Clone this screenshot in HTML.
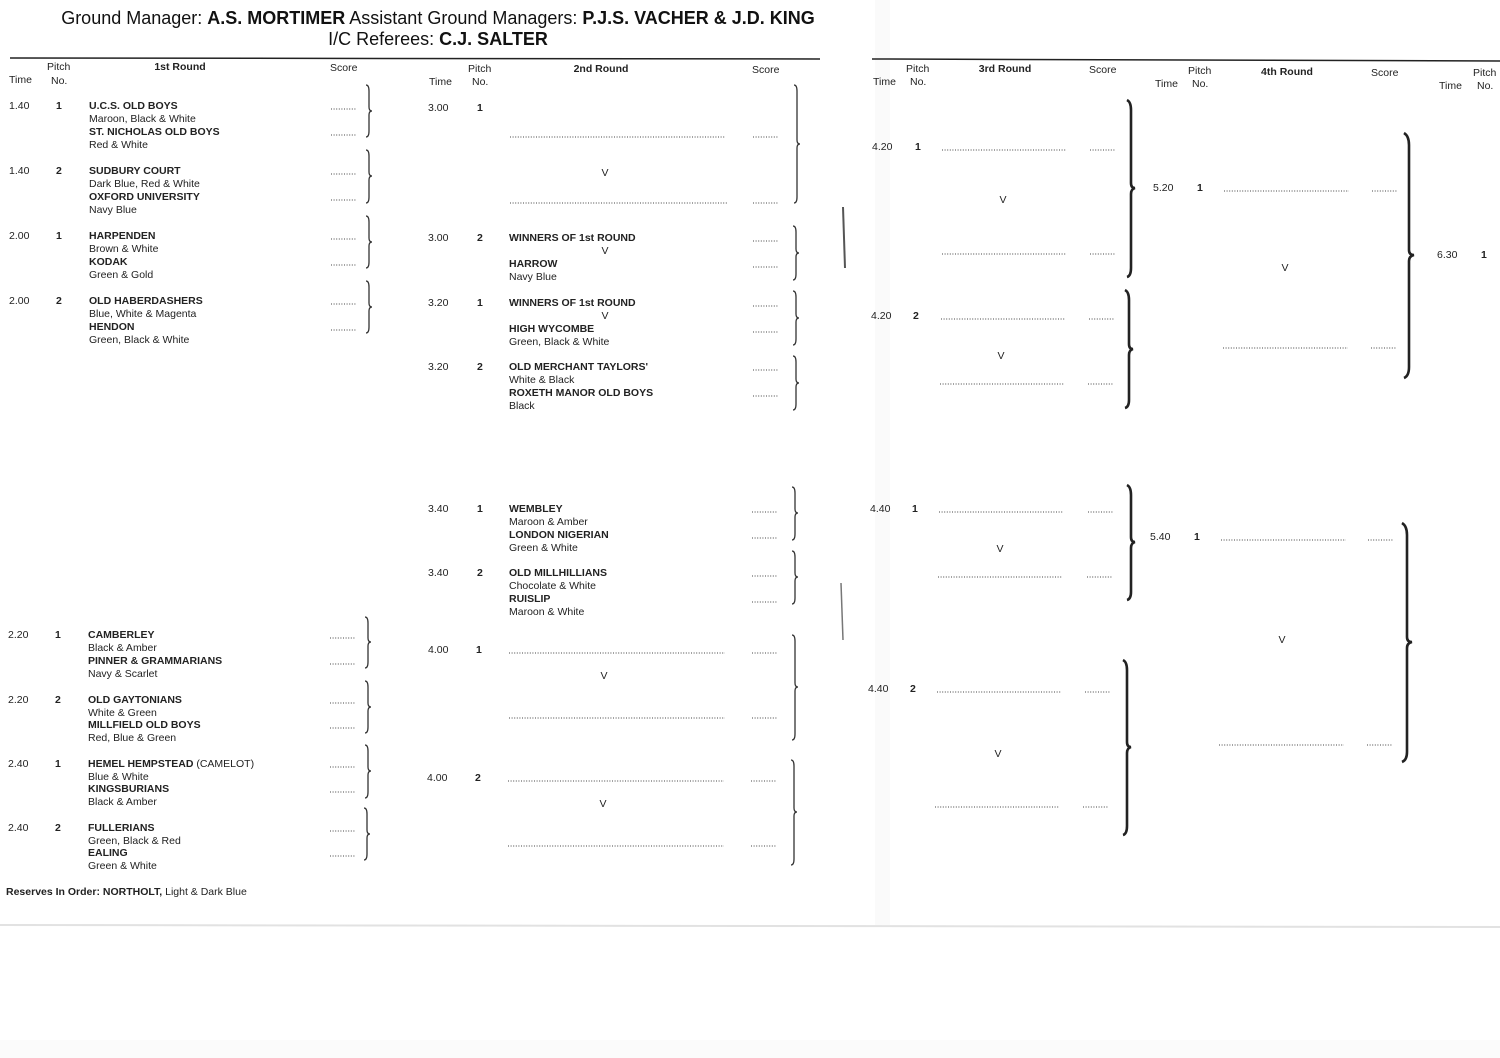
<!DOCTYPE html>
<html><head><meta charset="utf-8"><style>
html,body{margin:0;padding:0;background:#fff;}
svg{display:block;}
text{font-family:"Liberation Sans",sans-serif;fill:#222;font-size:10.5px;}
.b{font-weight:bold;}
.h{font-size:18px;fill:#111;}
.d{stroke:#444;stroke-width:1;stroke-dasharray:1 1.6;}
.br{fill:none;stroke:#333;stroke-width:1.3;}
.bt{fill:none;stroke:#222;stroke-width:2.6;}
</style></head><body>
<svg width="1500" height="1058" viewBox="0 0 1500 1058" xmlns="http://www.w3.org/2000/svg">
<rect width="1500" height="1058" fill="#fff"/>
<rect x="875" y="0" width="15" height="925" fill="#fafafa"/>
<line x1="0" y1="925" x2="1500" y2="927" stroke="#e2e2e2" stroke-width="2"/>
<rect x="0" y="1040" width="1500" height="18" fill="#fbfbfb"/>

<!-- header -->
<text x="438" y="24" text-anchor="middle" class="h">Ground Manager: <tspan class="b">A.S. MORTIMER</tspan>  Assistant Ground Managers: <tspan class="b">P.J.S. VACHER &amp; J.D. KING</tspan></text>
<text x="438" y="45" text-anchor="middle" class="h">I/C Referees: <tspan class="b">C.J. SALTER</tspan></text>
<line x1="10" y1="58" x2="820" y2="59" stroke="#222" stroke-width="1.5"/>
<line x1="872" y1="59" x2="1500" y2="61" stroke="#222" stroke-width="1.5"/>

<!-- column headers -->
<text x="47" y="70">Pitch</text><text x="9" y="83">Time</text><text x="51" y="84">No.</text>
<text x="180" y="70" text-anchor="middle" class="b">1st Round</text><text x="330" y="71">Score</text>
<text x="468" y="72">Pitch</text><text x="429" y="85">Time</text><text x="472" y="85">No.</text>
<text x="601" y="72" text-anchor="middle" class="b">2nd Round</text><text x="752" y="73">Score</text>
<text x="906" y="72">Pitch</text><text x="873" y="85">Time</text><text x="910" y="85">No.</text>
<text x="1005" y="72" text-anchor="middle" class="b">3rd Round</text><text x="1089" y="73">Score</text>
<text x="1188" y="74">Pitch</text><text x="1155" y="87">Time</text><text x="1192" y="87">No.</text>
<text x="1287" y="75" text-anchor="middle" class="b">4th Round</text><text x="1371" y="76">Score</text>
<text x="1473" y="76">Pitch</text><text x="1439" y="89">Time</text><text x="1477" y="89">No.</text>

<!-- 1st round -->
<g>
<text x="9" y="109">1.40</text><text x="56" y="109" class="b">1</text>
<text x="89" y="109" class="b">U.C.S. OLD BOYS</text><text x="89" y="122">Maroon, Black &amp; White</text>
<text x="89" y="135" class="b">ST. NICHOLAS OLD BOYS</text><text x="89" y="148">Red &amp; White</text>
<line class="d" x1="331" y1="109" x2="356" y2="109"/><line class="d" x1="331" y1="135" x2="356" y2="135"/>

<text x="9" y="174">1.40</text><text x="56" y="174" class="b">2</text>
<text x="89" y="174" class="b">SUDBURY COURT</text><text x="89" y="187">Dark Blue, Red &amp; White</text>
<text x="89" y="200" class="b">OXFORD UNIVERSITY</text><text x="89" y="213">Navy Blue</text>
<line class="d" x1="331" y1="174" x2="356" y2="174"/><line class="d" x1="331" y1="200" x2="356" y2="200"/>

<text x="9" y="239">2.00</text><text x="56" y="239" class="b">1</text>
<text x="89" y="239" class="b">HARPENDEN</text><text x="89" y="252">Brown &amp; White</text>
<text x="89" y="265" class="b">KODAK</text><text x="89" y="278">Green &amp; Gold</text>
<line class="d" x1="331" y1="239" x2="356" y2="239"/><line class="d" x1="331" y1="265" x2="356" y2="265"/>

<text x="9" y="304">2.00</text><text x="56" y="304" class="b">2</text>
<text x="89" y="304" class="b">OLD HABERDASHERS</text><text x="89" y="317">Blue, White &amp; Magenta</text>
<text x="89" y="330" class="b">HENDON</text><text x="89" y="343">Green, Black &amp; White</text>
<line class="d" x1="331" y1="304" x2="356" y2="304"/><line class="d" x1="331" y1="330" x2="356" y2="330"/>

<text x="8" y="638">2.20</text><text x="55" y="638" class="b">1</text>
<text x="88" y="638" class="b">CAMBERLEY</text><text x="88" y="651">Black &amp; Amber</text>
<text x="88" y="664" class="b">PINNER &amp; GRAMMARIANS</text><text x="88" y="677">Navy &amp; Scarlet</text>
<line class="d" x1="330" y1="638" x2="355" y2="638"/><line class="d" x1="330" y1="664" x2="355" y2="664"/>

<text x="8" y="703">2.20</text><text x="55" y="703" class="b">2</text>
<text x="88" y="703" class="b">OLD GAYTONIANS</text><text x="88" y="716">White &amp; Green</text>
<text x="88" y="728" class="b">MILLFIELD OLD BOYS</text><text x="88" y="741">Red, Blue &amp; Green</text>
<line class="d" x1="330" y1="703" x2="355" y2="703"/><line class="d" x1="330" y1="728" x2="355" y2="728"/>

<text x="8" y="767">2.40</text><text x="55" y="767" class="b">1</text>
<text x="88" y="767"><tspan class="b">HEMEL HEMPSTEAD</tspan> (CAMELOT)</text><text x="88" y="780">Blue &amp; White</text>
<text x="88" y="792" class="b">KINGSBURIANS</text><text x="88" y="805">Black &amp; Amber</text>
<line class="d" x1="330" y1="767" x2="355" y2="767"/><line class="d" x1="330" y1="792" x2="355" y2="792"/>

<text x="8" y="831">2.40</text><text x="55" y="831" class="b">2</text>
<text x="88" y="831" class="b">FULLERIANS</text><text x="88" y="844">Green, Black &amp; Red</text>
<text x="88" y="856" class="b">EALING</text><text x="88" y="869">Green &amp; White</text>
<line class="d" x1="330" y1="831" x2="355" y2="831"/><line class="d" x1="330" y1="856" x2="355" y2="856"/>

<text x="6" y="895" font-size="10"><tspan class="b">Reserves In Order:  NORTHOLT,</tspan> Light &amp; Dark Blue</text>
</g>

<!-- 2nd round -->
<g>
<text x="428" y="111">3.00</text><text x="477" y="111" class="b">1</text>
<line class="d" x1="510" y1="137" x2="725" y2="137"/><line class="d" x1="753" y1="137" x2="779" y2="137"/>
<text x="605" y="176" text-anchor="middle">V</text>
<line class="d" x1="510" y1="203" x2="727" y2="203"/><line class="d" x1="753" y1="203" x2="779" y2="203"/>

<text x="428" y="241">3.00</text><text x="477" y="241" class="b">2</text>
<text x="509" y="241" class="b">WINNERS OF 1st ROUND</text><text x="605" y="254" text-anchor="middle">V</text>
<text x="509" y="267" class="b">HARROW</text><text x="509" y="280">Navy Blue</text>
<line class="d" x1="753" y1="241" x2="779" y2="241"/><line class="d" x1="753" y1="267" x2="779" y2="267"/>

<text x="428" y="306">3.20</text><text x="477" y="306" class="b">1</text>
<text x="509" y="306" class="b">WINNERS OF 1st ROUND</text><text x="605" y="319" text-anchor="middle">V</text>
<text x="509" y="332" class="b">HIGH WYCOMBE</text><text x="509" y="345">Green, Black &amp; White</text>
<line class="d" x1="753" y1="306" x2="779" y2="306"/><line class="d" x1="753" y1="332" x2="779" y2="332"/>

<text x="428" y="370">3.20</text><text x="477" y="370" class="b">2</text>
<text x="509" y="370" class="b">OLD MERCHANT TAYLORS'</text><text x="509" y="383">White &amp; Black</text>
<text x="509" y="396" class="b">ROXETH MANOR OLD BOYS</text><text x="509" y="409">Black</text>
<line class="d" x1="753" y1="370" x2="779" y2="370"/><line class="d" x1="753" y1="396" x2="779" y2="396"/>

<text x="428" y="512">3.40</text><text x="477" y="512" class="b">1</text>
<text x="509" y="512" class="b">WEMBLEY</text><text x="509" y="525">Maroon &amp; Amber</text>
<text x="509" y="538" class="b">LONDON NIGERIAN</text><text x="509" y="551">Green &amp; White</text>
<line class="d" x1="752" y1="512" x2="778" y2="512"/><line class="d" x1="752" y1="538" x2="778" y2="538"/>

<text x="428" y="576">3.40</text><text x="477" y="576" class="b">2</text>
<text x="509" y="576" class="b">OLD MILLHILLIANS</text><text x="509" y="589">Chocolate &amp; White</text>
<text x="509" y="602" class="b">RUISLIP</text><text x="509" y="615">Maroon &amp; White</text>
<line class="d" x1="752" y1="576" x2="778" y2="576"/><line class="d" x1="752" y1="602" x2="778" y2="602"/>

<text x="428" y="653">4.00</text><text x="476" y="653" class="b">1</text>
<line class="d" x1="509" y1="653" x2="725" y2="653"/><line class="d" x1="752" y1="653" x2="778" y2="653"/>
<text x="604" y="679" text-anchor="middle">V</text>
<line class="d" x1="509" y1="718" x2="725" y2="718"/><line class="d" x1="752" y1="718" x2="778" y2="718"/>

<text x="427" y="781">4.00</text><text x="475" y="781" class="b">2</text>
<line class="d" x1="508" y1="781" x2="724" y2="781"/><line class="d" x1="751" y1="781" x2="777" y2="781"/>
<text x="603" y="807" text-anchor="middle">V</text>
<line class="d" x1="508" y1="846" x2="724" y2="846"/><line class="d" x1="751" y1="846" x2="777" y2="846"/>
</g>

<!-- 3rd round -->
<g>
<text x="872" y="150">4.20</text><text x="915" y="150" class="b">1</text>
<line class="d" x1="942" y1="150" x2="1066" y2="150"/><line class="d" x1="1090" y1="150" x2="1115" y2="150"/>
<text x="1003" y="203" text-anchor="middle">V</text>
<line class="d" x1="942" y1="254" x2="1066" y2="254"/><line class="d" x1="1090" y1="254" x2="1115" y2="254"/>

<text x="871" y="319">4.20</text><text x="913" y="319" class="b">2</text>
<line class="d" x1="941" y1="319" x2="1065" y2="319"/><line class="d" x1="1089" y1="319" x2="1114" y2="319"/>
<text x="1001" y="359" text-anchor="middle">V</text>
<line class="d" x1="940" y1="384" x2="1064" y2="384"/><line class="d" x1="1088" y1="384" x2="1113" y2="384"/>

<text x="870" y="512">4.40</text><text x="912" y="512" class="b">1</text>
<line class="d" x1="939" y1="512" x2="1063" y2="512"/><line class="d" x1="1088" y1="512" x2="1113" y2="512"/>
<text x="1000" y="552" text-anchor="middle">V</text>
<line class="d" x1="938" y1="577" x2="1062" y2="577"/><line class="d" x1="1087" y1="577" x2="1112" y2="577"/>

<text x="868" y="692">4.40</text><text x="910" y="692" class="b">2</text>
<line class="d" x1="937" y1="692" x2="1061" y2="692"/><line class="d" x1="1085" y1="692" x2="1110" y2="692"/>
<text x="998" y="757" text-anchor="middle">V</text>
<line class="d" x1="935" y1="807" x2="1059" y2="807"/><line class="d" x1="1083" y1="807" x2="1108" y2="807"/>
</g>

<!-- 4th round -->
<g>
<text x="1153" y="191">5.20</text><text x="1197" y="191" class="b">1</text>
<line class="d" x1="1224" y1="191" x2="1349" y2="191"/><line class="d" x1="1372" y1="191" x2="1397" y2="191"/>
<text x="1285" y="271" text-anchor="middle">V</text>
<line class="d" x1="1223" y1="348" x2="1348" y2="348"/><line class="d" x1="1371" y1="348" x2="1396" y2="348"/>

<text x="1150" y="540">5.40</text><text x="1194" y="540" class="b">1</text>
<line class="d" x1="1221" y1="540" x2="1346" y2="540"/><line class="d" x1="1368" y1="540" x2="1393" y2="540"/>
<text x="1282" y="643" text-anchor="middle">V</text>
<line class="d" x1="1219" y1="745" x2="1344" y2="745"/><line class="d" x1="1367" y1="745" x2="1392" y2="745"/>

<text x="1437" y="258">6.30</text><text x="1481" y="258" class="b">1</text>
</g>

<!-- braces thin -->
<g class="br">
<path d="M366,85 Q369,85 369,91 L369,107 Q369,111 372,111 Q369,111 369,115 L369,131 Q369,137 366,137"/>
<path d="M366,150 Q369,150 369,156 L369,172 Q369,176 372,176 Q369,176 369,180 L369,197 Q369,203 366,203"/>
<path d="M366,216 Q369,216 369,222 L369,238 Q369,242 372,242 Q369,242 369,246 L369,262 Q369,268 366,268"/>
<path d="M366,281 Q369,281 369,287 L369,303 Q369,307 372,307 Q369,307 369,311 L369,327 Q369,333 366,333"/>
<path d="M365,617 Q368,617 368,623 L368,638 Q368,642 371,642 Q368,642 368,646 L368,662 Q368,668 365,668"/>
<path d="M365,681 Q368,681 368,687 L368,703 Q368,707 371,707 Q368,707 368,711 L368,727 Q368,733 365,733"/>
<path d="M365,745 Q368,745 368,751 L368,767 Q368,771 371,771 Q368,771 368,775 L368,792 Q368,798 365,798"/>
<path d="M364,808 Q367,808 367,814 L367,830 Q367,834 370,834 Q367,834 367,838 L367,854 Q367,860 364,860"/>
<path d="M794,85 Q797,85 797,91 L797,140 Q797,144 800,144 Q797,144 797,148 L797,197 Q797,203 794,203"/>
<path d="M793,226 Q796,226 796,232 L796,249 Q796,253 799,253 Q796,253 796,257 L796,274 Q796,280 793,280"/>
<path d="M793,291 Q796,291 796,297 L796,314 Q796,318 799,318 Q796,318 796,322 L796,339 Q796,345 793,345"/>
<path d="M793,356 Q796,356 796,362 L796,379 Q796,383 799,383 Q796,383 796,387 L796,404 Q796,410 793,410"/>
<path d="M792,487 Q795,487 795,493 L795,509 Q795,513 798,513 Q795,513 795,517 L795,534 Q795,540 792,540"/>
<path d="M792,551 Q795,551 795,557 L795,573 Q795,577 798,577 Q795,577 795,581 L795,598 Q795,604 792,604"/>
<path d="M792,635 Q795,635 795,641 L795,683 Q795,687 798,687 Q795,687 795,691 L795,734 Q795,740 792,740"/>
<path d="M791,760 Q794,760 794,766 L794,808 Q794,812 797,812 Q794,812 794,816 L794,859 Q794,865 791,865"/>
</g>
<!-- braces thick -->
<g class="bt">
<path d="M1127,100 Q1131,102 1131,110 L1131,183 Q1131,188 1135,188 Q1131,189 1131,194 L1131,268 Q1131,276 1127,277"/>
<path d="M1125,290 Q1129,292 1129,300 L1129,344 Q1129,349 1133,349 Q1129,350 1129,355 L1129,400 Q1129,407 1125,408"/>
<path d="M1127,485 Q1131,487 1131,495 L1131,537 Q1131,542 1135,542 Q1131,543 1131,548 L1131,592 Q1131,599 1127,600"/>
<path d="M1123,660 Q1127,662 1127,670 L1127,742 Q1127,747 1131,747 Q1127,748 1127,753 L1127,826 Q1127,834 1123,835"/>
<path d="M1404,133 Q1409,136 1409,145 L1409,250 Q1409,255 1414,255 Q1409,256 1409,261 L1409,367 Q1409,376 1404,378"/>
<path d="M1402,523 Q1407,526 1407,535 L1407,637 Q1407,642 1412,642 Q1407,643 1407,648 L1407,752 Q1407,760 1402,762"/>
</g>
<!-- scan marks -->
<path d="M843,207 L845,268" stroke="#555" stroke-width="2" fill="none"/>
<path d="M841,583 L843,640" stroke="#777" stroke-width="1.5" fill="none"/>
</svg>
</body></html>
